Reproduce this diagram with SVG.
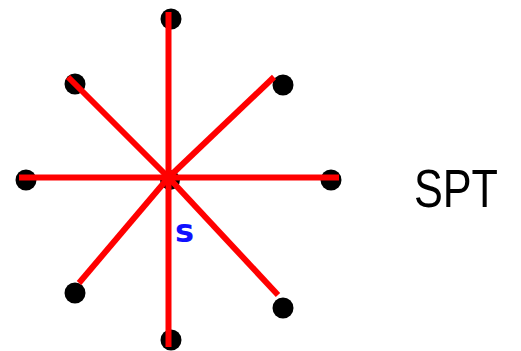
<svg xmlns="http://www.w3.org/2000/svg" width="521" height="351" viewBox="0 0 521 351">
<style>
.node{fill:#000}
.edge{stroke:#ff0000;stroke-width:6;fill:none}
.lbl{font-family:"DejaVu Sans",sans-serif;font-weight:bold;fill:#1010ff}
.title{font-family:"Liberation Sans",sans-serif;fill:#000}
</style>
<rect width="521" height="351" fill="#fff"/>
<g id="nodes">
<g id="n-s"><circle class="node" cx="170" cy="180" r="10"/></g>
<g id="n-top"><circle class="node" cx="171" cy="19" r="10.5"/></g>
<g id="n-tl"><circle class="node" cx="75" cy="84" r="10.5"/></g>
<g id="n-tr"><circle class="node" cx="283" cy="85" r="10.5"/></g>
<g id="n-left"><circle class="node" cx="26" cy="180" r="10.5"/></g>
<g id="n-right"><circle class="node" cx="331" cy="180" r="10.5"/></g>
<g id="n-bl"><circle class="node" cx="75" cy="293" r="10.5"/></g>
<g id="n-br"><circle class="node" cx="283" cy="308" r="10.5"/></g>
<g id="n-bottom"><circle class="node" cx="171" cy="340" r="10.5"/></g>
</g>
<g id="edges">
<line class="edge" x1="168.5" y1="12" x2="168.5" y2="347"/>
<line class="edge" x1="19" y1="177.5" x2="339" y2="177.5"/>
<line class="edge" x1="68" y1="77" x2="168.5" y2="177.5"/>
<line class="edge" x1="274" y1="77" x2="168.5" y2="177.5"/>
<line class="edge" x1="79" y1="283" x2="168.5" y2="177.5"/>
<line class="edge" x1="278" y1="295" x2="168.5" y2="177.5"/>
</g>
<text class="lbl" x="175" y="242" font-size="32">s</text>
<text class="title" x="414" y="207" font-size="54" textLength="84" lengthAdjust="spacingAndGlyphs">SPT</text>
</svg>
